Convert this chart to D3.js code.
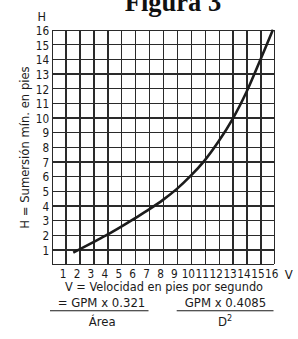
<!DOCTYPE html>
<html>
<head>
<meta charset="utf-8">
<script src="https://cdn.jsdelivr.net/npm/d3@7/dist/d3.min.js"></script>
<style>
  html, body { margin: 0; padding: 0; background: #fff; }
  svg { display: block; }
  .sans { font-family: "DejaVu Sans Condensed", "DejaVu Sans", sans-serif; font-stretch: condensed; fill: #1a1a1a; }
</style>
</head>
<body>
<script>
// ---- data ----
const titleText = "Figura 3";
const xTickLabels = ["1","2","3","4","5","6","7","8","9","10","11","12","13","14","15","16"];
const yTickLabels = ["1","2","3","4","5","6","7","8","9","10","11","12","13","14","15","16"];
const gridMax = 16;
// curve (V on grid, H)
const curveV = [1.55, 2, 3, 4, 5, 6, 7, 8, 9, 10, 11, 12, 13, 14, 15, 15.9];
const curveH = [0.78, 1.0, 1.5, 2.0, 2.55, 3.13, 3.73, 4.38, 5.13, 6.03, 7.08, 8.38, 9.9, 11.75, 13.95, 16];
const xAxisTitle = "V = Velocidad en pies por segundo";
const yAxisTitle = "H = Sumersión mín. en pies";
const formula1Num = "= GPM x 0.321";
const formula1Den = "Área";
const formula2Num = "GPM x 0.4085";
const formula2Den = "D";

// ---- layout ----
const W = 298, Ht = 339;
const mL = 51.7, mR = 274.3, mT = 29.7, mB = 264;

const svg = d3.select("body").append("svg").attr("width", W).attr("height", Ht);

const x = d3.scaleLinear().domain([0, gridMax]).range([mL, mR]);
const y = d3.scaleLinear().domain([0, gridMax]).range([mB, mT]);

// title
svg.append("text")
  .attr("x", 173).attr("y", 10.5)
  .attr("text-anchor", "middle")
  .style("font-family", "'Liberation Serif', 'Times New Roman', serif")
  .style("font-weight", "bold")
  .style("font-size", "26.5px")
  .attr("fill", "#111")
  .text(titleText);

// grid via axes
const gridColor = "#2a2a2a";
const gx = svg.append("g").attr("transform", `translate(0,${mB})`)
  .call(d3.axisBottom(x).tickValues(d3.range(0, gridMax + 1)).tickSize(-(mB - mT)).tickFormat(""));
const gy = svg.append("g").attr("transform", `translate(${mL},0)`)
  .call(d3.axisLeft(y).tickValues(d3.range(0, gridMax + 1)).tickSize(-(mR - mL)).tickFormat(""));
[gx, gy].forEach(g => {
  g.select(".domain").remove();
  g.selectAll(".tick line").attr("stroke", gridColor).attr("stroke-width", 1.3).attr("shape-rendering", "crispEdges");
});

// tick labels via axes
const xLab = svg.append("g").attr("transform", `translate(-3,${mB})`)
  .call(d3.axisBottom(x).tickValues(xTickLabels.map(Number)).tickSize(0).tickPadding(5.5)
    .tickFormat((d, i) => xTickLabels[i]));
const yLab = svg.append("g").attr("transform", `translate(${mL - 1},1)`)
  .call(d3.axisLeft(y).tickValues(yTickLabels.map(Number)).tickSize(0).tickPadding(1.5)
    .tickFormat((d, i) => yTickLabels[i]));
[xLab, yLab].forEach(g => {
  g.select(".domain").remove();
  g.attr("font-family", null).attr("font-size", null);
  g.selectAll("text").attr("class", "sans").style("font-size", "11.7px").attr("fill", "#1a1a1a");
});

// axis letters
svg.append("text").attr("class", "sans").attr("x", 41.7).attr("y", 20.5)
  .attr("text-anchor", "middle").style("font-size", "12.5px").text("H");
svg.append("text").attr("class", "sans").attr("x", 288.7).attr("y", 278.5)
  .attr("text-anchor", "middle").style("font-size", "13px").text("V");

// curve
const pts = curveV.map((v, i) => [v, curveH[i]]);
svg.append("path").datum(pts)
  .attr("d", d3.line().x(d => x(d[0])).y(d => y(d[1])).curve(d3.curveCatmullRom.alpha(0.5)))
  .attr("fill", "none").attr("stroke", "#1c1c1c").attr("stroke-width", 2.6).attr("stroke-linecap", "butt");

// y axis title
svg.append("text").attr("class", "sans")
  .attr("transform", `translate(28.5,147.5) rotate(-90)`)
  .attr("text-anchor", "middle").style("font-size", "12.9px").text(yAxisTitle);

// x axis title
svg.append("text").attr("class", "sans").attr("x", 164).attr("y", 291.3)
  .attr("text-anchor", "middle").style("font-size", "12.6px").text(xAxisTitle);

// formulas
const fs = "13px";
svg.append("text").attr("class", "sans").attr("x", 101.5).attr("y", 306.8)
  .attr("text-anchor", "middle").style("font-size", fs).text(formula1Num);
svg.append("line").attr("x1", 50).attr("x2", 148.5).attr("y1", 310.8).attr("y2", 310.8)
  .attr("stroke", "#1a1a1a").attr("stroke-width", 1.1);
svg.append("text").attr("class", "sans").attr("x", 102.3).attr("y", 326)
  .attr("text-anchor", "middle").style("font-size", fs).text(formula1Den);

svg.append("text").attr("class", "sans").attr("x", 225.5).attr("y", 306.8)
  .attr("text-anchor", "middle").style("font-size", fs).text(formula2Num);
svg.append("line").attr("x1", 176.7).attr("x2", 273.5).attr("y1", 310.8).attr("y2", 310.8)
  .attr("stroke", "#1a1a1a").attr("stroke-width", 1.1);
const den2 = svg.append("text").attr("class", "sans").attr("x", 225).attr("y", 326)
  .attr("text-anchor", "middle").style("font-size", fs);
den2.append("tspan").text(formula2Den);
den2.append("tspan").attr("dy", -5).style("font-size", "9px").text("2");
</script>
</body>
</html>
